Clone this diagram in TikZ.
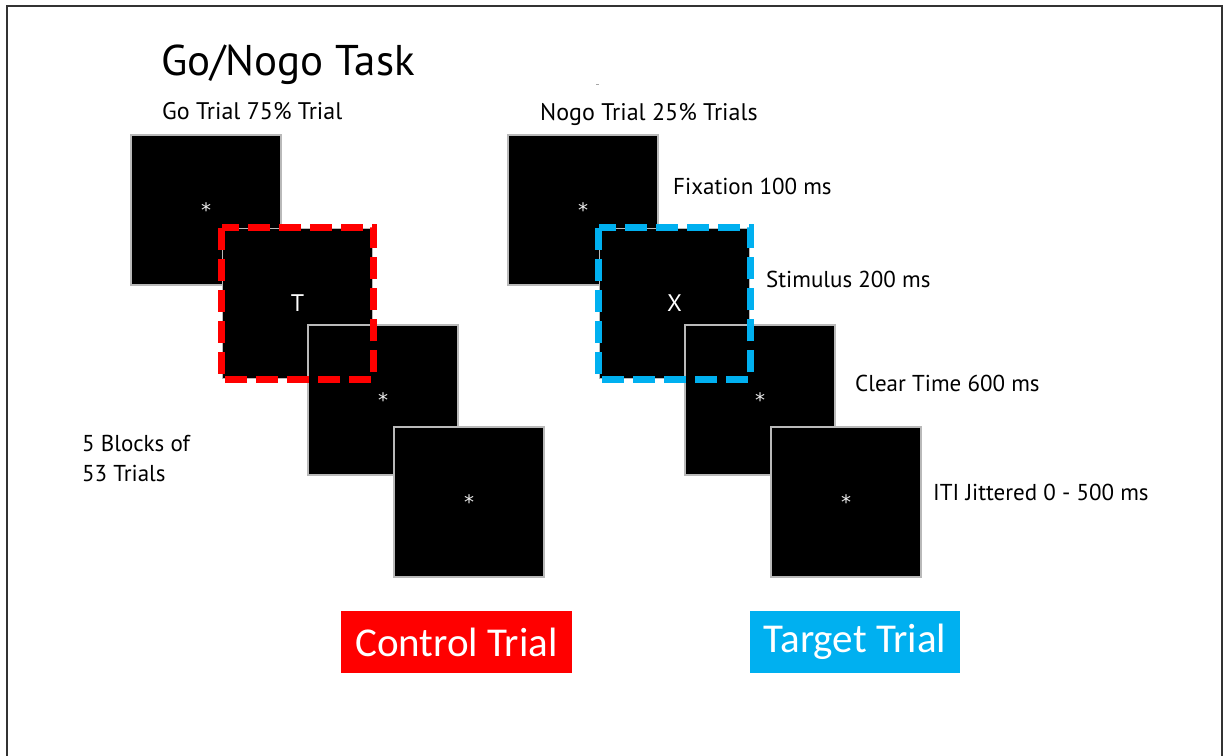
\documentclass[tikz,border=0pt]{standalone}
\usepackage{fontspec}
\setmainfont{PT Sans}
\newfontfamily\calibri{Carlito}
\newfontfamily\dejavu{DejaVu Sans}
\usetikzlibrary{positioning}

\definecolor{gored}{RGB}{255,0,0}
\definecolor{nogoblue}{RGB}{0,176,240}

\begin{document}
\begin{tikzpicture}[
    x=1pt, y=-1pt,
    screen/.style={draw=gray!55, line width=1.5pt, fill=black, minimum size=150pt, inner sep=0pt, text=gray!15, font=\dejavu\fontsize{20}{20}\selectfont},
    cue/.style={screen, text=white, font=\fontsize{24}{24}\selectfont},
    outline/.style={line width=7pt, dash pattern=on 22pt off 9pt},
    lbl/.style={anchor=base west, inner sep=0pt, font=\fontsize{23}{28}\selectfont},
    tag/.style={minimum height=62pt, inner sep=0pt, text=white, font=\calibri\fontsize{41}{41}\selectfont}
]

    % page and frame
    \useasboundingbox (0,0) rectangle (1228,755);
    \clip (0,0) rectangle (1228,755);
    \draw[line width=2pt, black!80] (7,765) -- (7,6) -- (1222,6) -- (1222,765);

    % Headings
    \node[lbl, font=\fontsize{43}{43}\selectfont] (title) at (161,75) {Go/Nogo Task};
    \node[lbl, font=\fontsize{24}{24}\selectfont] (gohead) at (162,119) {Go Trial 75\% Trial};
    \node[lbl, font=\fontsize{24}{24}\selectfont] (nogohead) at (540,120) {Nogo Trial 25\% Trials};
    \fill[gray!70] (596,83.5) rectangle (599,85); % stray mark

    % Go trial screens
    \node[screen] (go1) at (206,210) {*};
    \node[cue] (go2) at (297.5,303.5) {T};
    \node[screen] (go3) at (383,400) {*};
    \draw[outline, gored] (go2.north west) rectangle (go2.south east);
    \node[screen] (go4) at (469,502) {*};

    % Nogo trial screens
    \node[screen] (nogo1) at (583,210) {*};
    \node[cue] (nogo2) at (674.5,303.5) {X};
    \node[screen] (nogo3) at (760,400) {*};
    \draw[outline, nogoblue] (nogo2.north west) rectangle (nogo2.south east);
    \node[screen] (nogo4) at (846,502) {*};

    % Timing labels
    \node[lbl] (fix) at (673,194) {Fixation 100 ms};
    \node[lbl] (stim) at (766,287) {Stimulus 200 ms};
    \node[lbl] (clear) at (855,391) {Clear Time 600 ms};
    \node[lbl] (iti) at (933,500) {ITI Jittered 0 - 500 ms};

    % Blocks
    \node[lbl, align=left, font=\fontsize{23}{30}\selectfont] (blocks) at (82,481) {5 Blocks of\\53 Trials};

    % Trial types
    \node[tag, fill=gored, minimum width=231pt] (control) at (456.5,642) {Control Trial};
    \node[tag, fill=nogoblue, minimum width=210pt] (target) at (855,642) {Target Trial};

\end{tikzpicture}
\end{document}
